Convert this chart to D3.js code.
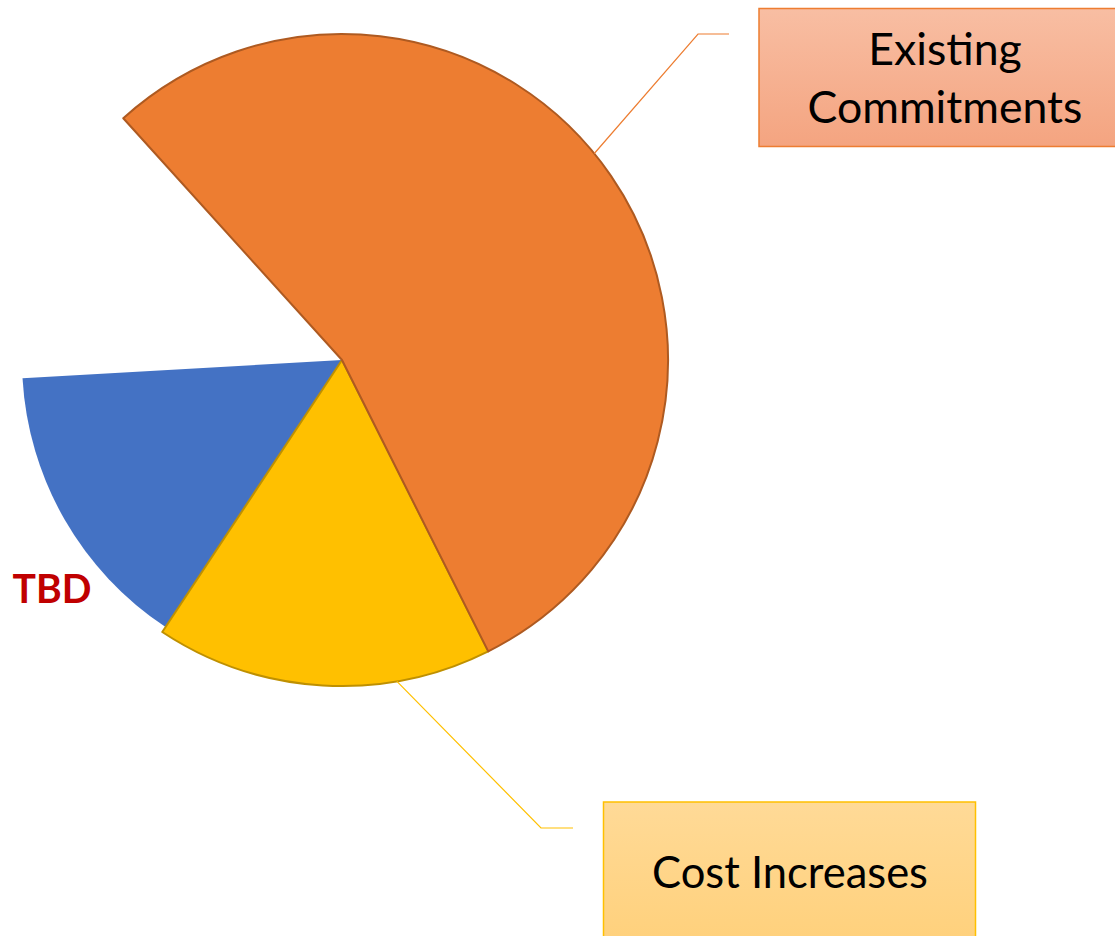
<!DOCTYPE html>
<html>
<head>
<meta charset="utf-8">
<script src="https://cdn.jsdelivr.net/npm/d3@7"></script>
<style>
  html, body { margin: 0; padding: 0; background: #ffffff; }
  svg { display: block; }
  text { font-family: Lato, "Open Sans", sans-serif; }
</style>
</head>
<body>
<svg id="chart" width="1115" height="936"></svg>
<script>
// ---- data ----
const categories = ["Existing Commitments", "Cost Increases", "TBD", ""];
const values = [54.3, 16.7, 14.8, 14.2];
const colors = ["#ED7D31", "#FFC000", "#4472C4", "none"];
const strokes = ["#AE5A21", "#BF9000", "none", "none"];

// ---- layout ----
const W = 1115, H = 936;
const cx = 342, cy = 360;
const R = 326, Rsmall = 320;
const startDeg = -42.14;

const svg = d3.select("#chart");
const defs = svg.append("defs");

const g1 = defs.append("linearGradient").attr("id", "gOrange").attr("x1", 0).attr("y1", 0).attr("x2", 0).attr("y2", 1);
g1.append("stop").attr("offset", "0%").attr("stop-color", "#F8BEA3");
g1.append("stop").attr("offset", "100%").attr("stop-color", "#F4A480");
const g2 = defs.append("linearGradient").attr("id", "gYellow").attr("x1", 0).attr("y1", 0).attr("x2", 0).attr("y2", 1);
g2.append("stop").attr("offset", "0%").attr("stop-color", "#FFDA97");
g2.append("stop").attr("offset", "100%").attr("stop-color", "#FFD07A");

const toRad = d => d * Math.PI / 180;
const pie = d3.pie().sort(null).value(d => d)
  .startAngle(toRad(startDeg)).endAngle(toRad(startDeg + 360));
const arcs = pie(values);

const gPie = svg.append("g").attr("transform", `translate(${cx},${cy})`);
const order = [2, 1, 0];
order.forEach(i => {
  const a = arcs[i];
  const rad = i === 2 ? Rsmall : R;
  gPie.append("path")
    .attr("d", d3.arc().innerRadius(0).outerRadius(rad)(a))
    .attr("fill", colors[i])
    .attr("stroke", strokes[i])
    .attr("stroke-width", strokes[i] === "none" ? 0 : 2)
    .attr("stroke-linejoin", "round");
});

// leader lines
function leader(angleDeg, pts, color) {
  const p0 = d3.pointRadial(toRad(angleDeg), R);
  const all = [[cx + p0[0], cy + p0[1]], ...pts];
  svg.append("path").attr("d", d3.line()(all))
    .attr("fill", "none").attr("stroke", color).attr("stroke-width", 1.2);
}
leader(50.7, [[698, 34], [729, 34]], "#ED7D31");
leader(170.3, [[541, 828], [573, 828]], "#FFC000");

// label boxes
svg.append("rect").attr("x", 759).attr("y", 8.5).attr("width", 372).attr("height", 138)
  .attr("fill", "url(#gOrange)").attr("stroke", "#ED7D31").attr("stroke-width", 1.5);
svg.append("rect").attr("x", 603.5).attr("y", 802).attr("width", 372).attr("height", 150)
  .attr("fill", "url(#gYellow)").attr("stroke", "#FFC000").attr("stroke-width", 1.5);

function fitText(sel, targetW) {
  const len = sel.node().getComputedTextLength();
  const fs = parseFloat(sel.attr("font-size"));
  sel.attr("font-size", fs * targetW / len);
}

const t1 = svg.append("text").attr("x", 945).attr("y", 65).attr("text-anchor", "middle")
  .attr("font-size", 42).attr("fill", "#000").text("Existing");
const t2 = svg.append("text").attr("x", 945).attr("y", 122.5).attr("text-anchor", "middle")
  .attr("font-size", 42).attr("fill", "#000").text("Commitments");
fitText(t2, 275);
t1.attr("font-size", t2.attr("font-size"));
const t3 = svg.append("text").attr("x", 790).attr("y", 888).attr("text-anchor", "middle")
  .attr("font-size", 42).attr("fill", "#000").text("Cost Increases");
fitText(t3, 276);
const t4 = svg.append("text").attr("x", 12.5).attr("y", 603).attr("text-anchor", "start")
  .attr("font-size", 40).attr("font-weight", "bold").attr("fill", "#C00000").text(categories[2]);
fitText(t4, 79);
</script>
</body>
</html>
